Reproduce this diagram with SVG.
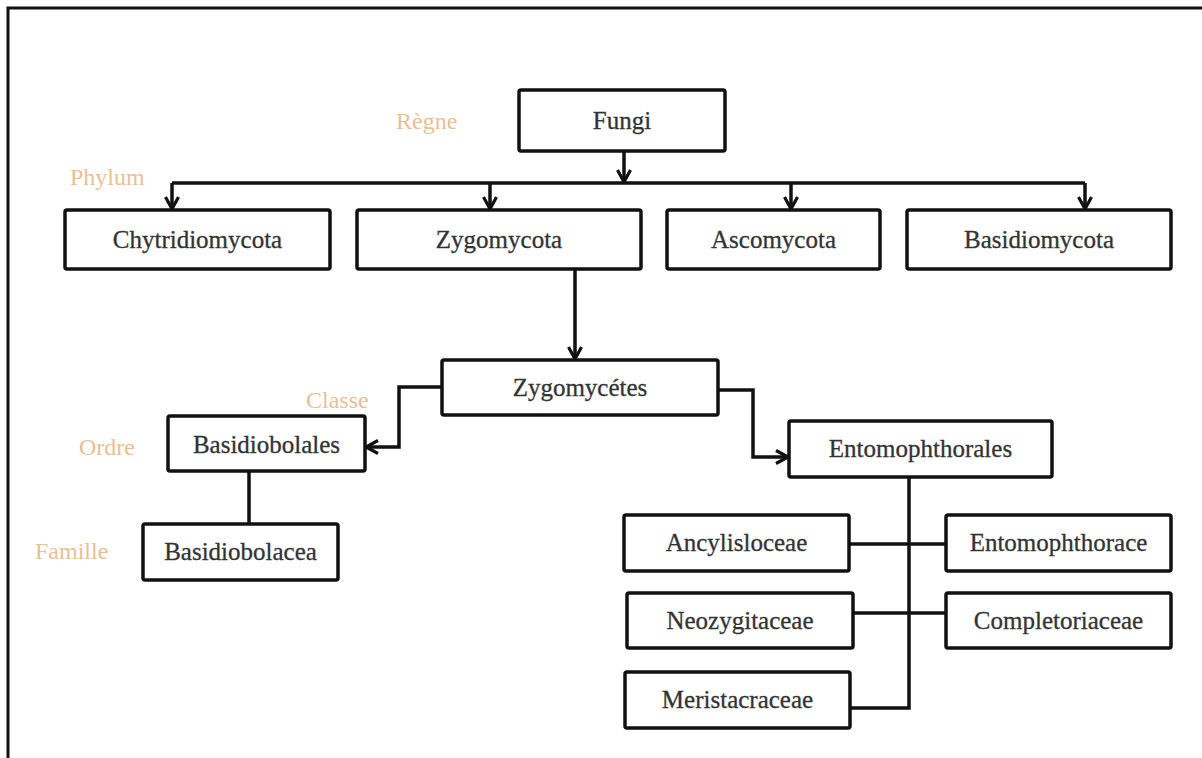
<svg xmlns="http://www.w3.org/2000/svg" width="1202" height="758" viewBox="0 0 1202 758">
<style>
  .box { fill: #ffffff; stroke: #111; stroke-width: 3.5; }
  .t { font-family: "Liberation Serif", "Times New Roman", serif; font-size: 25px; fill: #333; stroke: #333; stroke-width: 0.3; text-anchor: middle; }
  .lbl { font-family: "Liberation Serif", "Times New Roman", serif; font-size: 24px; fill: #e8bf94; }
  .c { fill: none; stroke: #111; stroke-width: 3.5; }
  .ca { fill: none; stroke: #111; stroke-width: 3.5; marker-end: url(#arr); }
</style>
<defs>
  <marker id="arr" viewBox="0 0 16 16" refX="14" refY="8" markerWidth="16" markerHeight="16" markerUnits="userSpaceOnUse" orient="auto">
    <path d="M2,1.5 L14,8 L2,14.5" fill="none" stroke="#111" stroke-width="3.2" stroke-linejoin="miter"/>
  </marker>
</defs>
<rect x="0" y="0" width="1202" height="758" fill="#ffffff"/>
<path d="M8,758 V8 H1202" fill="none" stroke="#111" stroke-width="3"/>

<g id="labels">
  <text class="lbl" x="396" y="129">Règne</text>
  <text class="lbl" x="70" y="185">Phylum</text>
  <text class="lbl" x="306" y="408">Classe</text>
  <text class="lbl" x="79" y="455">Ordre</text>
  <text class="lbl" x="35" y="559">Famille</text>
</g>

<g id="connectors">
  <path class="ca" d="M624,151 V182"/>
  <path class="c" d="M172,183 H1085"/>
  <path class="ca" d="M172,183 V209"/>
  <path class="ca" d="M490,183 V209"/>
  <path class="ca" d="M791,183 V209"/>
  <path class="ca" d="M1085,183 V209"/>
  <path class="ca" d="M575,269 V359"/>
  <path class="ca" d="M442,387 H399 V447 H366"/>
  <path class="c" d="M249,471 V524"/>
  <path class="ca" d="M718,390 H753 V457 H788"/>
  <path class="c" d="M909,477 V708 H850"/>
  <path class="c" d="M849,544 H946"/>
  <path class="c" d="M853,613 H946"/>
</g>

<g id="fungi"><rect class="box" x="519" y="90" width="206" height="61" rx="2"/><text class="t" x="622" y="129">Fungi</text></g>
<g id="chytridiomycota"><rect class="box" x="65" y="210" width="265" height="59" rx="2"/><text class="t" x="197.5" y="248">Chytridiomycota</text></g>
<g id="zygomycota"><rect class="box" x="357" y="210" width="284" height="59" rx="2"/><text class="t" x="499" y="248">Zygomycota</text></g>
<g id="ascomycota"><rect class="box" x="667" y="210" width="213" height="59" rx="2"/><text class="t" x="773.5" y="248">Ascomycota</text></g>
<g id="basidiomycota"><rect class="box" x="907" y="210" width="264" height="59" rx="2"/><text class="t" x="1039" y="248">Basidiomycota</text></g>
<g id="zygomycetes"><rect class="box" x="442" y="360" width="276" height="55" rx="2"/><text class="t" x="580" y="396">Zygomycétes</text></g>
<g id="basidiobolales"><rect class="box" x="168" y="416" width="197" height="55" rx="2"/><text class="t" x="266.5" y="453">Basidiobolales</text></g>
<g id="basidiobolacea"><rect class="box" x="143" y="524" width="195" height="56" rx="2"/><text class="t" x="240.5" y="560">Basidiobolacea</text></g>
<g id="entomophthorales"><rect class="box" x="789" y="421" width="263" height="56" rx="2"/><text class="t" x="920.5" y="457">Entomophthorales</text></g>
<g id="ancylisloceae"><rect class="box" x="624" y="515" width="225" height="56" rx="2"/><text class="t" x="736.5" y="551">Ancylisloceae</text></g>
<g id="entomophthorace"><rect class="box" x="946" y="515" width="225" height="56" rx="2"/><text class="t" x="1058.5" y="551">Entomophthorace</text></g>
<g id="neozygitaceae"><rect class="box" x="627" y="593" width="226" height="55" rx="2"/><text class="t" x="740" y="629">Neozygitaceae</text></g>
<g id="completoriaceae"><rect class="box" x="946" y="593" width="225" height="55" rx="2"/><text class="t" x="1058.5" y="629">Completoriaceae</text></g>
<g id="meristacraceae"><rect class="box" x="625" y="672" width="225" height="56" rx="2"/><text class="t" x="737.5" y="708">Meristacraceae</text></g>
</svg>
